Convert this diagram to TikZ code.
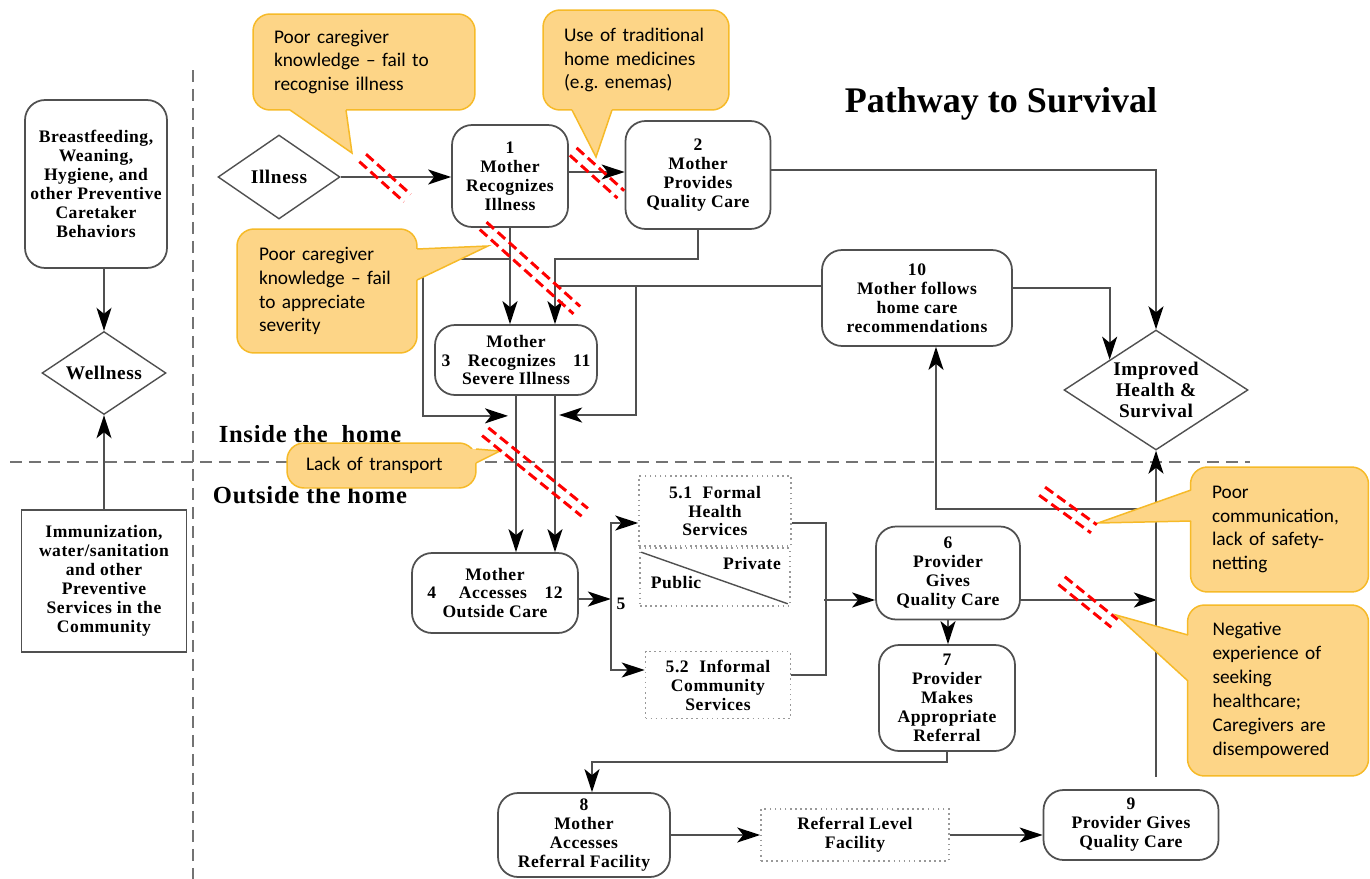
\documentclass[tikz,border=0pt]{standalone}
\usepackage{fontspec}
\setmainfont{Liberation Serif}
\newfontfamily\diagfont{Liberation Serif}[LetterSpace=3]
\newfontfamily\notefont{Carlito}[Ligatures=TeX]
\usetikzlibrary{arrows.meta, shapes.geometric}

\definecolor{notefill}{RGB}{253,213,135}
\definecolor{noteline}{RGB}{246,186,40}
\definecolor{linegray}{RGB}{80,80,80}

\newcommand{\boxfont}{\diagfont\bfseries\fontsize{10}{10.8}\selectfont}
\newcommand{\diafont}{\diagfont\bfseries\fontsize{11}{12}\selectfont}

% two red dashed strokes across a link: centre, angle, half length
\newcommand{\cutmark}[3]{%
  \begin{scope}[shift={(#1)}, rotate=#2]
    \draw[cut] (-#3,-5) -- (#3,-5);
    \draw[cut] (-#3,5) -- (#3,5);
  \end{scope}}

% pointer of a callout: base, base, tip, inward shift
\newcommand{\notetip}[5]{%
  \fill[notefill] (#1) -- (#3) -- (#2) -- ([shift={(#4,#5)}]#2) -- ([shift={(#4,#5)}]#1) -- cycle;
  \draw[noteline, line width=0.85pt] (#1) -- (#3) -- (#2);}

\begin{document}
\begin{tikzpicture}[x=0.02cm, y=-0.02cm]
\tikzstyle{stepbox}=[draw=linegray, line width=1pt, rounded corners=0.4cm, fill=white, align=center, font=\boxfont, inner sep=0pt]
\tikzstyle{dotbox}=[draw=black!40, dotted, line width=0.9pt, fill=white, align=center, font=\boxfont, inner sep=0pt]
\tikzstyle{plainbox}=[draw=linegray, line width=1pt, fill=white, align=center, font=\boxfont, inner sep=0pt]
\tikzstyle{outcome}=[diamond, draw=linegray, line width=0.8pt, fill=white, align=center, font=\diafont, inner sep=-8pt]
\tikzstyle{connect}=[line width=1pt, draw=linegray]
\tikzstyle{flow}=[connect, -{Stealth[length=0.46cm, width=0.3cm, inset=0.12cm, color=black]}]
\tikzstyle{divider}=[line width=1pt, draw=black!55, dash pattern=on 0.24cm off 0.14cm]
\tikzstyle{cut}=[red, line width=1.7pt, dash pattern=on 0.2cm off 0.1cm]
\tikzstyle{note}=[draw=noteline, fill=notefill, line width=0.85pt, rounded corners=0.34cm, font=\notefont\fontsize{11}{13.6}\selectfont, align=left, inner ysep=0pt]
\tikzstyle{heading}=[font=\diagfont\bfseries\fontsize{14}{16}\selectfont, inner sep=0pt]

\useasboundingbox (0,0) rectangle (1370,879);

% home / outside split
\draw[divider] (193,70) -- (193,879);
\draw[divider] (10,462) -- (1250,462);

\node[font=\bfseries\fontsize{20.5}{24}\selectfont] (ttl) at (1001,104) {Pathway to Survival};
\node[heading] (inh) at (310,434) {Inside the\ \ home};
\node[heading] (outh) at (310,495) {Outside the home};

% prevention column
\node[stepbox, minimum width=2.84cm, minimum height=3.36cm] (bf) at (96,184) {Breastfeeding,\\Weaning,\\Hygiene, and\\other Preventive\\Caretaker\\Behaviors};
\node[outcome, minimum width=2.48cm, minimum height=1.66cm] (wel) at (104,373) {Wellness};
\node[plainbox, minimum width=3.3cm, minimum height=2.84cm] (imm) at (104,581) {Immunization,\\water/sanitation\\and other\\Preventive\\Services in the\\Community};

% pathway steps
\node[outcome, minimum width=2.44cm, minimum height=1.68cm] (ill) at (279,177) {Illness};
\node[stepbox, minimum width=2.32cm, minimum height=2.04cm] (b1) at (510,176) {1\\Mother\\Recognizes\\Illness};
\node[stepbox, minimum width=2.9cm, minimum height=2.16cm] (b2) at (698,175) {2\\Mother\\Provides\\Quality Care};
\node[stepbox, minimum width=3.8cm, minimum height=1.92cm] (b10) at (917,298) {10\\Mother follows\\home care\\recommendations};
\node[outcome, minimum width=3.68cm, minimum height=2.4cm] (imp) at (1156,390) {Improved\\Health \&\\Survival};
\node[stepbox, minimum width=3.24cm, minimum height=1.4cm] (b3) at (516,360) {Mother\\3\hspace{1em}Recognizes\hspace{1em}11\\Severe Illness};
\node[stepbox, minimum width=3.32cm, minimum height=1.6cm] (b4) at (495,593) {Mother\\4\hspace{1.3em}Accesses\hspace{1em}12\\Outside Care};
\node[dotbox, minimum width=3.04cm, minimum height=1.4cm] (s51) at (715,511) {5.1\hspace{0.6em}Formal\\Health\\Services};
\node[dotbox, minimum width=3.0cm, minimum height=1.16cm] (spp) at (715,577) {};
\node[dotbox, minimum width=2.9cm, minimum height=1.34cm] (s52) at (718,685) {5.2\hspace{0.6em}Informal\\Community\\Services};
\node[stepbox, minimum width=2.88cm, minimum height=1.86cm] (b6) at (948,573) {6\\Provider\\Gives\\Quality Care};
\node[stepbox, minimum width=2.72cm, minimum height=2.12cm] (b7) at (947,698) {7\\Provider\\Makes\\Appropriate\\Referral};
\node[stepbox, minimum width=3.44cm, minimum height=1.68cm] (b8) at (584,835) {8\\Mother\\Accesses\\Referral Facility};
\node[dotbox, minimum width=3.76cm, minimum height=1.04cm] (ref) at (855,835) {Referral Level\\Facility};
\node[stepbox, minimum width=3.5cm, minimum height=1.4cm] (b9) at (1131,825) {9\\Provider Gives\\Quality Care};

\draw[connect, line width=0.8pt] ([shift={(2,5)}]spp.north west) -- ([shift={(-3,-3)}]spp.south east);
\node[font=\boxfont] (pri) at (752,563) {Private};
\node[font=\boxfont] (pub) at (676,583) {Public};
\node[font=\boxfont] (five) at (621,604) {5};

% links
\draw[flow] (wel.north |- bf.south) -- (wel.north);
\draw[flow] (imm.north) -- (wel.south);
\draw[flow] (ill.east) -- (ill.east -| b1.west);
\draw[flow] ([yshift=0.08cm]b1.east) -- ([yshift=0.08cm]b1.east -| b2.west);
\draw[flow] ([yshift=0.1cm]b2.east) -| (imp.north);
\draw[flow] ([yshift=0.2cm]b10.east) -| (imp.north west);
\draw[flow] (b1.south) -- (b1.south |- b3.north);
\draw[flow] (b2.south) -- ++(0,29) -| ([xshift=0.78cm]b3.north);
\draw[flow] (b1.south) ++(0,31) -| ++(-87,157) -- ++(85,0);
\draw[connect] ([yshift=0.24cm]b10.west) -- ++(-267,0);
\draw[flow] ([yshift=0.24cm]b10.west) ++(-185,0) |- ++(-77,129);
\draw[flow] (b3.south) -- (b3.south |- b4.north);
\draw[flow] ([xshift=0.78cm]b3.south) -- ([xshift=0.78cm]b3.south |- b4.north);
\draw[flow] ([yshift=-0.12cm]b4.east) -- ++(32,0);
\draw[flow] ([yshift=-0.12cm]b4.east) ++(32,0) |- ([yshift=-0.24cm]s51.west);
\draw[flow] ([yshift=-0.12cm]b4.east) ++(32,0) |- ([yshift=0.3cm]s52.west);
\draw[connect] ([yshift=-0.24cm]s51.east) -- ++(34,0) |- ([yshift=0.2cm]s52.east);
\draw[flow] ([yshift=-0.54cm]b6.west) ++(-51,0) -- ([yshift=-0.54cm]b6.west);
\draw[flow] (b6.south) -- (b6.south |- b7.north);
\draw[flow] ([yshift=-0.54cm]b6.east) -- ++(136,0);
\draw[flow] (imp.south) ++(0,326) -- (imp.south);
\draw[flow] (imp.south) ++(0,58) -| ([xshift=0.38cm]b10.south);
\draw[flow] (b7.south) -- ++(0,10) -| ([xshift=0.16cm]b8.north);
\draw[flow] (b8.east) -- (ref.west);
\draw[flow] (ref.east) -- (ref.east -| b9.west);

% barriers
\node[note, text width=3.6cm, inner xsep=0.42cm, minimum height=1.92cm] (c1) at (364,62) {Poor caregiver\\knowledge – fail to\\recognise illness};
\notetip{290,110}{346,110}{352,153}{0}{-6}
\node[note, text width=2.88cm, inner xsep=0.42cm, minimum height=2.0cm] (c2) at (636,60) {Use of traditional\\home medicines\\(e.g.\ enemas)};
\notetip{572,110}{612,110}{596,157}{0}{-6}
\node[note, text width=2.72cm, inner xsep=0.44cm, minimum height=2.48cm] (c3) at (327,291) {Poor caregiver\\knowledge – fail\\to appreciate\\severity};
\notetip{417,249}{417,280}{488,246}{-6}{0}
\node[note, text width=3.02cm, inner xsep=0.38cm, minimum height=0.9cm] (c4) at (381.5,465.5) {Lack of transport};
\notetip{476,449}{476,463}{500,451}{-6}{0}
\node[note, text width=2.7cm, inner xsep=0.43cm, minimum height=2.5cm] (c5) at (1279.5,529.5) {Poor\\communication,\\lack of safety-\\netting};
\notetip{1191,490}{1191,521}{1098,523}{6}{0}
\node[note, text width=2.62cm, inner xsep=0.5cm, minimum height=3.42cm] (c6) at (1278,690.5) {Negative\\experience of\\seeking\\healthcare;\\Caregivers are\\disempowered};
\notetip{1188,635}{1188,681}{1116,615}{6}{0}

\cutmark{385,178}{-42}{30}
\cutmark{597,173}{-42}{32}
\cutmark{530,268}{-42}{63}
\cutmark{535,472}{-39}{64}
\cutmark{1068,510}{-36}{32}
\cutmark{1088,602}{-39}{34}
\end{tikzpicture}
\end{document}
